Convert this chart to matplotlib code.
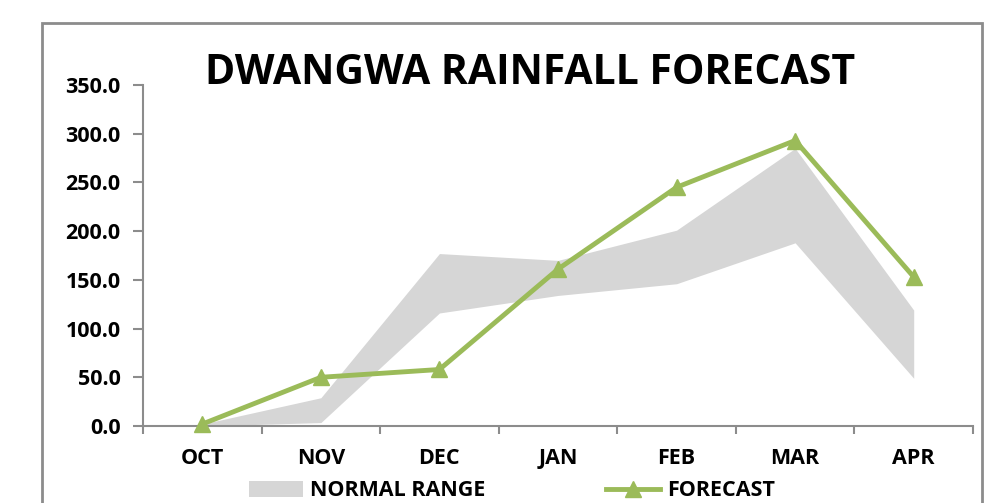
import matplotlib
matplotlib.use("Agg")
import matplotlib.pyplot as plt
from matplotlib.patches import Patch, Rectangle
from matplotlib.lines import Line2D

plt.rcParams['font.family'] = ['Open Sans', 'DejaVu Sans']

months = ['OCT', 'NOV', 'DEC', 'JAN', 'FEB', 'MAR', 'APR']
normal_low = [0.0, 3.5, 116.0, 134.0, 146.0, 188.0, 49.0]
normal_high = [2.0, 29.0, 177.0, 170.0, 201.0, 285.0, 119.0]
forecast = [2.0, 50.0, 58.0, 161.0, 245.0, 293.0, 153.0]

GREEN = '#9BBB59'
GREY_FILL = '#D6D6D6'
AXIS = '#8C8C8C'
FS = 15.5

fig = plt.figure(figsize=(10.05, 5.03), dpi=100)
ax = fig.add_axes([143 / 1005, 1 - 426 / 503, (973 - 143) / 1005, (426 - 85) / 503])

x = list(range(len(months)))
ax.fill_between(x, normal_low, normal_high, color=GREY_FILL, linewidth=0, zorder=1)
ax.plot(x, forecast, color=GREEN, linewidth=3.5, marker='^', markersize=11,
        zorder=3, clip_on=False)

ax.set_xlim(-0.5, len(months) - 0.5)
ax.set_ylim(0, 350)
ax.set_yticks(range(0, 351, 50))
ax.set_yticklabels([f'{v:.1f}' for v in range(0, 351, 50)])
ax.set_xticks(x)
ax.set_xticklabels(months)
ax.set_xticks([i - 0.5 for i in range(len(months) + 1)], minor=True)
ax.tick_params(axis='x', which='major', length=0, pad=16)
ax.tick_params(axis='x', which='minor', length=6, width=1.5, color=AXIS, direction='out')
ax.tick_params(axis='y', length=7, width=1.5, color=AXIS, pad=9)
for lab in ax.get_xticklabels() + ax.get_yticklabels():
    lab.set_fontsize(FS)
    lab.set_fontweight('bold')

for side in ['top', 'right']:
    ax.spines[side].set_visible(False)
for side in ['left', 'bottom']:
    ax.spines[side].set_color(AXIS)
    ax.spines[side].set_linewidth(1.5)

fig.text(530 / 1005, 1 - 74 / 503, 'DWANGWA RAINFALL FORECAST', ha='center', va='center',
         fontsize=29.5, fontweight='bold')

# chart border
fig.patches.append(Rectangle((42 / 1005, -0.1), (982 - 42) / 1005, 1.1 - 23 / 503,
                             transform=fig.transFigure, fill=False, edgecolor=AXIS,
                             linewidth=2))

handles = [Patch(facecolor=GREY_FILL, edgecolor='none', label='NORMAL RANGE'),
           Line2D([0], [0], color=GREEN, linewidth=3.5, marker='^', markersize=11,
                  label='FORECAST')]
leg = fig.legend(handles=handles, loc='center', bbox_to_anchor=(512 / 1005, 1 - 491 / 503),
                 ncol=2, frameon=False, columnspacing=5.6, handlelength=2.5,
                 handletextpad=0.35, prop={'weight': 'bold', 'size': FS})

fig.savefig('out.png', dpi=100)
